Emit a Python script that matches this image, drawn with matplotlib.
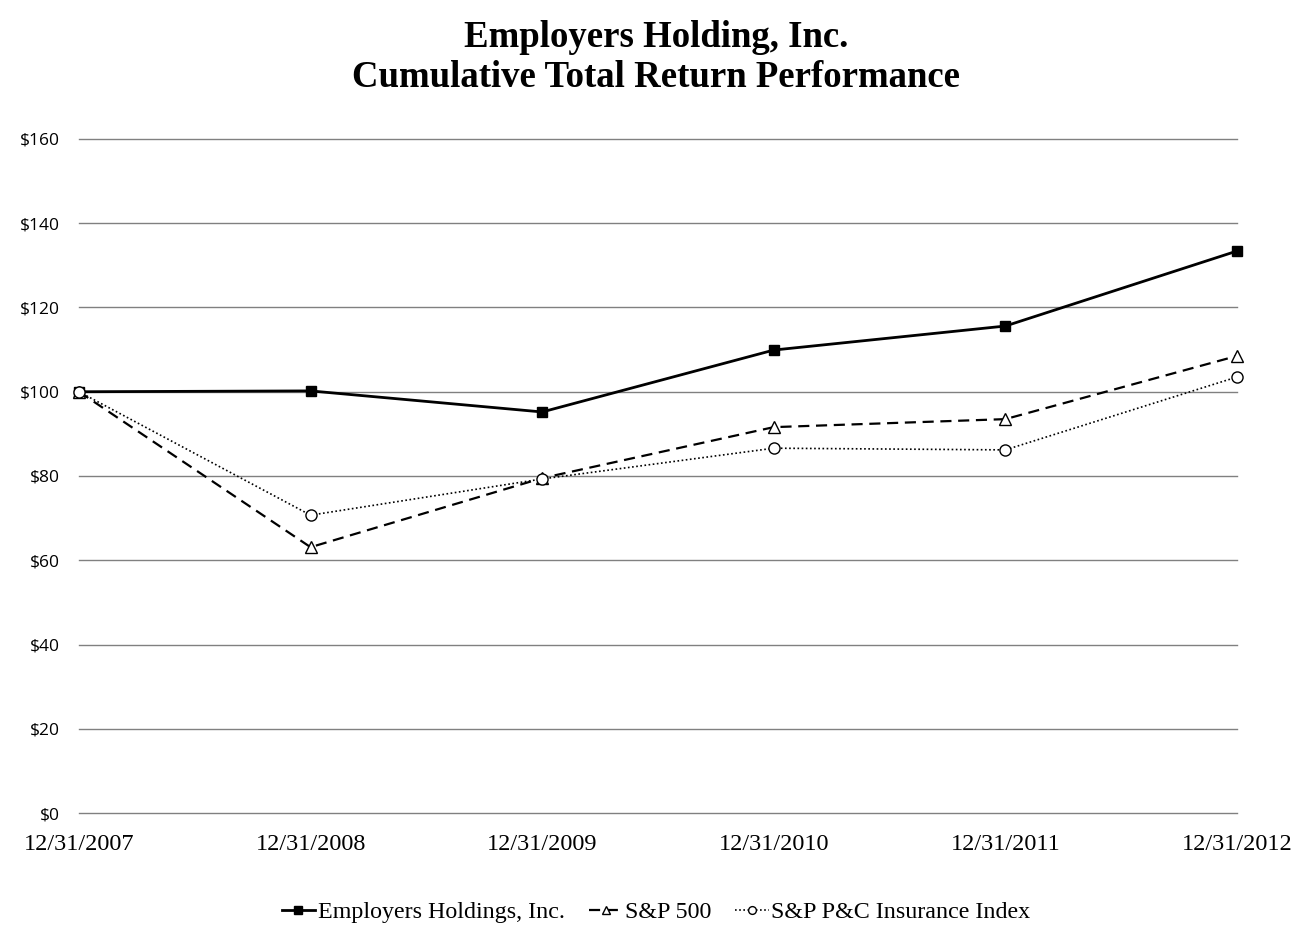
import matplotlib
matplotlib.use('Agg')
import matplotlib.pyplot as plt

years = ['12/31/2007', '12/31/2008', '12/31/2009', '12/31/2010', '12/31/2011', '12/31/2012']
employers = [100.0, 100.2, 95.2, 109.9, 115.6, 133.4]
sp500 = [100.0, 63.1, 79.5, 91.6, 93.5, 108.5]
pc_index = [100.0, 70.7, 79.3, 86.6, 86.2, 103.5]
yticks = [0, 20, 40, 60, 80, 100, 120, 140, 160]

serif = 'Liberation Serif'

fig = plt.figure(figsize=(13.12, 9.52), dpi=100)
ax = fig.add_axes([0.0602, 0.146, 0.8826, 0.708])

x = range(len(years))
ax.plot(x, employers, color='black', lw=2, marker='s', ms=7.5, clip_on=False,
        label='Employers Holdings, Inc.')
ax.plot(x, sp500, color='black', lw=1.6, ls=(0, (5, 3)), marker='^', ms=8,
        mfc='white', mew=1, clip_on=False, label='S&P 500')
ax.plot(x, pc_index, color='black', lw=1.2, ls=(0, (1, 1.5)), marker='o', ms=8,
        mfc='white', mew=1, clip_on=False, label='S&P P&C Insurance Index')

ax.set_xlim(0, len(years) - 1)
ax.set_ylim(0, 160)
ax.set_yticks(yticks)
ax.set_yticklabels(['$%d' % v for v in yticks], fontsize=12.5, family='Open Sans')
ax.set_xticks(list(x))
ax.set_xticklabels(years, fontsize=17.5, family=serif)
ax.tick_params(axis='both', length=0)
ax.tick_params(axis='x', pad=15)
ax.tick_params(axis='y', pad=14)
ax.grid(axis='y', color='#808080', lw=1)
for gl in ax.get_ygridlines():
    gl.set_clip_on(False)
ax.set_axisbelow(True)
for side in ['top', 'right', 'left', 'bottom']:
    ax.spines[side].set_visible(False)

fig.suptitle('Employers Holding, Inc.\nCumulative Total Return Performance',
             fontsize=26.5, fontweight='bold', family=serif, y=0.979, linespacing=1.2)

leg = fig.legend(loc='center', bbox_to_anchor=(0.5, 0.042), ncol=3, frameon=False,
                 prop={'family': serif, 'size': 17.3}, handlelength=1.4,
                 handletextpad=0.1, columnspacing=1.0, markerscale=0.7)

fig.savefig('out.png', dpi=100)
